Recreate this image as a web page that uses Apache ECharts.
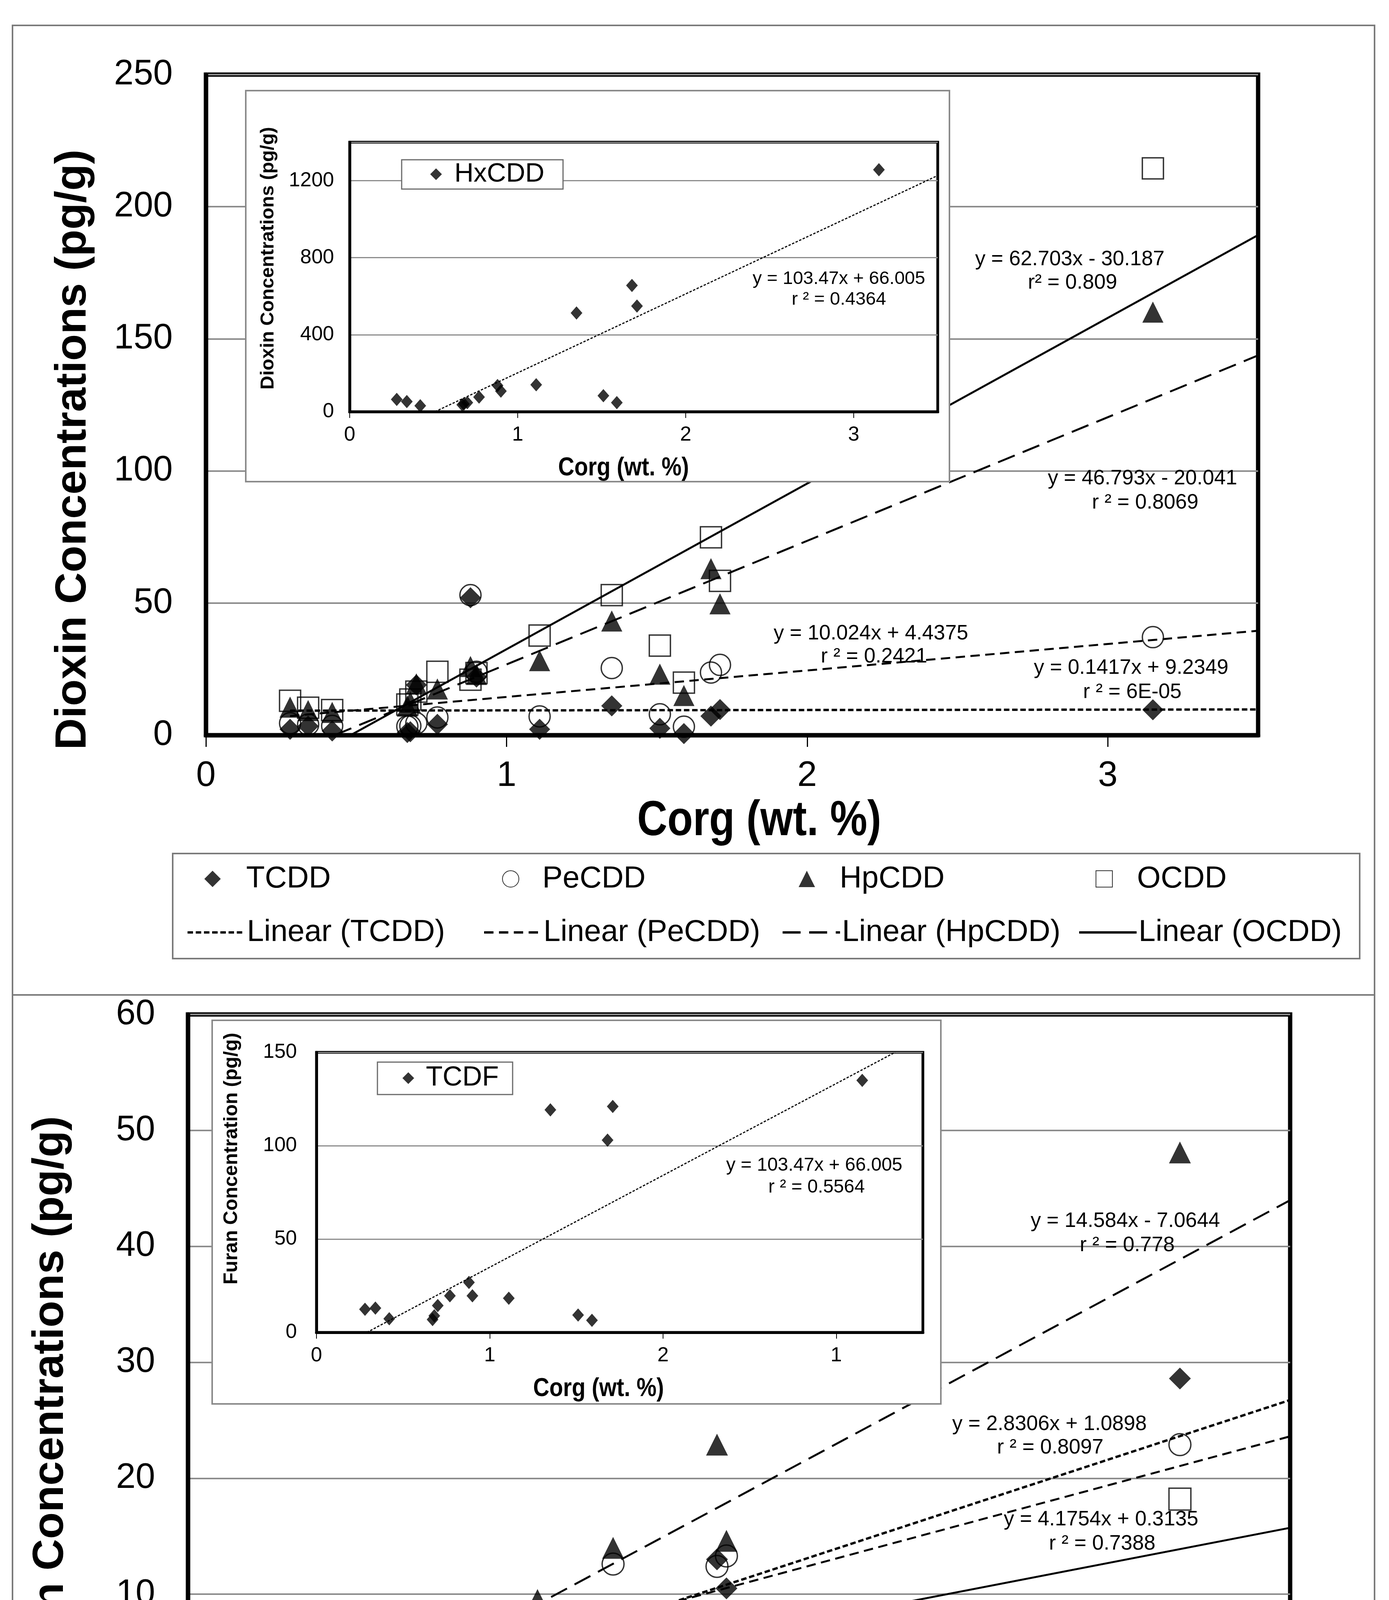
<!DOCTYPE html>
<html><head><meta charset="utf-8">
<script src="https://cdn.jsdelivr.net/npm/echarts/dist/echarts.min.js"></script>
<style>html,body{margin:0;padding:0;background:#fff}#c{width:3555px;height:5090px}</style>
</head><body><div id="c"></div>
<script>
// ---------------- DATA ----------------
const corg = [0.28, 0.34, 0.42, 0.67, 0.68, 0.70, 0.77, 0.88, 0.90, 1.11, 1.35, 1.51, 1.59, 1.68, 1.71, 3.15];
// Dioxins (pg/g)
const TCDD  = [2.2, 3.4, 1.6, 1.0, 1.3, 19.0, 4.1, 52.0, 22.0, 2.2, 11.1, 2.6, 0.6, 7.2, 9.7, 9.6];
const PeCDD = [4.5, 4.0, 3.5, 3.3, 3.5, 4.5, 6.7, 53.0, 24.0, 7.1, 25.4, 7.9, 3.2, 23.7, 26.6, 37.1];
const HpCDD = [10.6, 9.3, 8.6, 11.0, 12.5, 19.4, 17.5, 26.0, 23.0, 28.2, 43.2, 23.1, 15.0, 63.0, 49.7, 160.1];
const OCDD  = [13.0, 10.4, 9.5, 11.6, 13.5, 16.5, 24.0, 21.0, 23.5, 37.7, 53.0, 33.9, 19.9, 74.9, 58.4, 214.5];
const HxCDD = [64, 53, 31, 36, 40, 47, 76, 136, 107, 140, 513, 83, 47, 656, 549, 1257];
// Furans (pg/g)
const HxCDF = [2.1, 0.1, 1.7, 1.2, 1.9, 1.5, 2.8, 3.2, 2.9, 4.8, 7.0, 3.8, 2.8, 13.0, 10.5, 28.6];
const PeCDF = [2.2, 2.4, 1.8, 1.8, 2.0, 2.8, 3.8, 6.5, 5.7, 3.6, 12.6, 4.0, 1.9, 12.4, 13.3, 22.9];
const HpCDF = [5.2, 2.4, 1.8, 2.2, 2.6, 2.4, 4.6, 3.4, 4.6, 9.5, 14.0, 5.6, 3.7, 22.9, 14.6, 48.1];
const OCDF  = [2.2, 0.8, 0.5, 0.8, 0.3, 0.6, 1.6, 0.7, 1.8, 3.5, 5.3, 1.9, 1.3, 6.7, 4.0, 18.2];
const TCDF  = [12.4, 13.0, 7.3, 6.9, 8.9, 14.4, 19.6, 26.8, 19.6, 18.3, 119.2, 9.3, 6.5, 103, 121, 135];

// trend lines (slope, intercept) as drawn in the picture
const topTrendNames = ['Linear (TCDD)', 'Linear (PeCDD)', 'Linear (HpCDD)', 'Linear (OCDD)'];
const topTrendSlopes = [0.1417, 10.024, 46.793, 62.703];
const topTrendIntercepts = [9.2349, 4.4375, -20.041, -30.187];
const hxcddTrend = [410, -208];
const botTrendNames = ['Linear (HxCDF)', 'Linear (PeCDF)', 'Linear (HpCDF)', 'Linear (OCDF)'];
const botTrendSlopes = [8.9, 7.31, 14.584, 5.2565];
const botTrendIntercepts = [-4.4, -1.97, -7.0644, -2.6691];
const tcdfTrend = [49.2, -14.3];
const trendXRange = [0.28, 3.5];

// tick labels
const mainXTickValues = [0, 1, 2, 3];
const mainXTicks = ['0', '1', '2', '3'];
const tcdfXTicks = ['0', '1', '2', '1'];
const topYTicks = [0, 50, 100, 150, 200, 250];
const hxcddYTicks = [0, 400, 800, 1200];
const botYTicks = [0, 10, 20, 30, 40, 50, 60];
const tcdfYTicks = [0, 50, 100, 150];

// equation labels
const topEqTexts = ['y = 62.703x - 30.187', 'r² = 0.809', 'y = 46.793x - 20.041', 'r ² = 0.8069',
  'y = 10.024x + 4.4375', 'r ² = 0.2421', 'y = 0.1417x + 9.2349', 'r ² = 6E-05'];
const hxcddEqTexts = ['y = 103.47x + 66.005', 'r ² = 0.4364'];
const botEqTexts = ['y = 14.584x - 7.0644', 'r ² = 0.778', 'y = 2.8306x + 1.0898', 'r ² = 0.8097',
  'y = 4.1754x + 0.3135', 'r ² = 0.7388', 'y = 5.2565x - 2.6691', 'r ² = 0.7511'];
const tcdfEqTexts = ['y = 103.47x + 66.005', 'r ² = 0.5564'];

// ---------------- STYLE / LAYOUT ----------------
const SANS = "'Liberation Sans',Arial,sans-serif";
const GRIDC = '#8c8c8c';

function pts(ys) { return corg.map((x, i) => [x, ys[i]]); }
function trendData(m, b, yMin, yMax) {
  let x0 = trendXRange[0], x1 = trendXRange[1];
  if (m * x0 + b < yMin) x0 = (yMin - b) / m;
  if (m * x1 + b > yMax) x1 = (yMax - b) / m;
  return [[x0, m * x0 + b], [x1, m * x1 + b]];
}
function fmtFrom(list) { return v => { const i = Math.round(v); return (Math.abs(v - i) < 1e-9 && i < list.length) ? list[i] : ''; }; }
function fmtIn(list) { return v => list.indexOf(v) >= 0 ? String(v) : ''; }

const grids = [
  {left: 527, top: 191, width: 2693, height: 1691, show: true, borderColor: '#000', borderWidth: 11, z: 0},
  {left: 895, top: 364, width: 1505, height: 690, show: true, borderColor: '#000', borderWidth: 7, z: 11},
  {left: 481, top: 2597, width: 2821, height: 1781, show: true, borderColor: '#000', borderWidth: 11, z: 0},
  {left: 810, top: 2694, width: 1552, height: 717, show: true, borderColor: '#000', borderWidth: 7, z: 11}
];

function xAx(gi, inset, labels) {
  return {type: 'value', gridIndex: gi, min: 0, max: 3.5, interval: 1, z: inset ? 11 : 0,
    axisLine: {show: true, onZero: false, lineStyle: {color: '#000', width: inset ? 7 : 11}},
    axisTick: {show: true, customValues: mainXTickValues, length: inset ? 16 : 30, lineStyle: {color: '#000', width: inset ? 2 : 3}},
    axisLabel: {customValues: mainXTickValues, formatter: fmtFrom(labels), color: '#000', fontFamily: SANS,
      fontSize: inset ? 52 : 90, margin: inset ? 34 : 60},
    splitLine: {show: false}};
}
function yAx(gi, inset, max, interval, labels, margin) {
  return {type: 'value', gridIndex: gi, min: 0, max: max, interval: interval, z: inset ? 11 : 0,
    axisLine: {show: true, onZero: false, lineStyle: {color: '#000', width: inset ? 7 : 11}},
    axisTick: {show: false},
    axisLabel: {customValues: labels, formatter: fmtIn(labels), color: '#000', fontFamily: SANS, fontSize: inset ? 52 : 90, margin: margin},
    splitLine: {show: true, lineStyle: {color: GRIDC, width: inset ? 3 : 4}}};
}

function scatter(name, gi, ys, sym, filled, size, z) {
  return {type: 'scatter', name: name, xAxisIndex: gi, yAxisIndex: gi, data: pts(ys), symbol: sym, symbolSize: size,
    z: z || 3, silent: true,
    itemStyle: filled ? {color: '#000', borderColor: '#000', borderWidth: 0}
                      : {color: 'rgba(0,0,0,0)', borderColor: '#000', borderWidth: 3.5}};
}
const dashStyles = [{type: [14, 7], width: 6}, {type: [24, 14], width: 5}, {type: [46, 22], width: 5}, {type: 'solid', width: 5}];
function trendLine(name, gi, m, b, yMax, style, z) {
  return {type: 'line', name: name, xAxisIndex: gi, yAxisIndex: gi, data: trendData(m, b, 0, yMax), symbol: 'none',
    showSymbol: false, clip: true, silent: true, z: z || 2, animation: false,
    itemStyle: {color: '#000', opacity: 0},
    lineStyle: {color: '#000', width: style.width, type: style.type, cap: 'butt'}};
}

const series = [];
// top main
series.push(scatter('TCDD', 0, TCDD, 'diamond', true, 54));
series.push(scatter('PeCDD', 0, PeCDD, 'circle', false, 54));
series.push(scatter('HpCDD', 0, HpCDD, 'triangle', true, 54));
series.push(scatter('OCDD', 0, OCDD, 'rect', false, 54));
topTrendNames.forEach((n, i) => series.push(trendLine(n, 0, topTrendSlopes[i], topTrendIntercepts[i], 250, dashStyles[i])));
// top inset
series.push(scatter('HxCDD', 1, HxCDD, 'diamond', true, [30, 34], 13));
series.push(trendLine('Linear (HxCDD)', 1, hxcddTrend[0], hxcddTrend[1], 1400, {type: [6, 4], width: 3}, 12));
// bottom main
series.push(scatter('HxCDF', 2, HxCDF, 'diamond', true, 56));
series.push(scatter('PeCDF', 2, PeCDF, 'circle', false, 56));
series.push(scatter('HpCDF', 2, HpCDF, 'triangle', true, 56));
series.push(scatter('OCDF', 2, OCDF, 'rect', false, 56));
botTrendNames.forEach((n, i) => series.push(trendLine(n, 2, botTrendSlopes[i], botTrendIntercepts[i], 60, dashStyles[i])));
// bottom inset
series.push(scatter('TCDF', 3, TCDF, 'diamond', true, [30, 34], 13));
series.push(trendLine('Linear (TCDF)', 3, tcdfTrend[0], tcdfTrend[1], 150, {type: [6, 4], width: 3}, 12));

// legends
const legends = [];
const LEGFS = 78;
function legMarker(name, cx, cy, size, fs, textStart, z) {
  legends.push({data: [name], left: cx - size / 2, top: cy - fs / 2, itemWidth: size, itemHeight: size, padding: 0,
    selectedMode: false, z: z || 4,
    textStyle: {fontFamily: SANS, fontSize: fs, lineHeight: fs, color: '#000', padding: [0, 0, 0, textStart - (cx + size / 2 + 5)]}});
}
function legLine(name, x0, cy, w, fs) {
  legends.push({data: [name], left: x0, top: cy - fs / 2, itemWidth: w, itemHeight: 4, padding: 0, selectedMode: false,
    itemStyle: {opacity: 0}, lineStyle: {width: 6, color: '#000'},
    textStyle: {fontFamily: SANS, fontSize: fs, lineHeight: fs, color: '#000'}});
}
const topMk = [[544, 630], [1306, 1387], [2065, 2149], [2825, 2909]];
['TCDD', 'PeCDD', 'HpCDD', 'OCDD'].forEach((n, i) => legMarker(n, topMk[i][0], 2250, 42, LEGFS, topMk[i][1]));
const topLn = [477, 1236, 2000, 2759];
topTrendNames.forEach((n, i) => legLine(n, topLn[i], 2387, 147, LEGFS));
const botMk = [[483, 567], [1245, 1326], [2004, 2086], [2763, 2847]];
['HxCDF', 'PeCDF', 'HpCDF', 'OCDF'].forEach((n, i) => legMarker(n, botMk[i][0], 4751, 42, LEGFS, botMk[i][1]));
const botLn = [416, 1175, 1935, 2696];
botTrendNames.forEach((n, i) => legLine(n, botLn[i], 4890, 147, LEGFS));
legMarker('HxCDD', 1116, 446, 30, 68, 1163, 16);
legMarker('TCDF', 1045, 2760, 30, 70, 1090, 16);

// graphics
const graphic = [];
function rect(x0, y0, x1, y1, stroke, lw, z, fill) {
  graphic.push({type: 'rect', z: z, silent: true, shape: {x: x0, y: y0, width: x1 - x0, height: y1 - y0},
    style: {fill: fill || 'none', stroke: stroke, lineWidth: lw}});
}
function text(t, x, y, fs, weight, rot, sx, z) {
  graphic.push({type: 'text', x: x, y: y, rotation: rot || 0, scaleX: sx || 1, z: z || 20, silent: true,
    style: {text: t, fill: '#000', fontSize: fs, fontFamily: SANS, fontWeight: weight || 'normal', textAlign: 'center', textVerticalAlign: 'middle'}});
}
rect(32, 65, 3518, 2547, '#7a7a7a', 4, 0);
rect(32, 2547, 3518, 5036, '#7a7a7a', 4, 0);
rect(442, 2185, 3480, 2454, '#7a7a7a', 4, 0);
rect(374, 4686, 3412, 4955, '#7a7a7a', 4, 0);
rect(629, 232, 2430, 1233, '#8a8a8a', 4, 10, '#fff');
rect(543, 2612, 2408, 3594, '#8a8a8a', 4, 10, '#fff');
rect(1028, 409, 1441, 484, '#6a6a6a', 3, 14, '#fff');
rect(966, 2719, 1312, 2802, '#6a6a6a', 3, 14, '#fff');

text('Dioxin Concentrations (pg/g)', 188, 1151, 112, 'bold', Math.PI / 2);
text('Corg (wt. %)', 1943, 2103, 126, 'bold', 0, 0.85);
text('Furan Concentrations (pg/g)', 130, 3610, 112, 'bold', Math.PI / 2);
text('Corg (wt. %)', 1880, 4605, 126, 'bold', 0, 0.85);
text('Dioxin Concentrations (pg/g)', 686, 661, 49, 'bold', Math.PI / 2);
text('Corg (wt. %)', 1596, 1199, 66, 'bold', 0, 0.87);
text('Furan Concentration (pg/g)', 593, 2966, 50, 'bold', Math.PI / 2);
text('Corg (wt. %)', 1532, 3556, 66, 'bold', 0, 0.87);

const topEqPos = [[2738, 664], [2745, 724], [2924, 1225], [2931, 1287], [2229, 1622], [2237, 1681], [2895, 1710], [2898, 1772]];
topEqTexts.forEach((t, i) => text(t, topEqPos[i][0], topEqPos[i][1], 53));
const hxEqPos = [[2147, 714], [2147, 767]];
hxcddEqTexts.forEach((t, i) => text(t, hxEqPos[i][0], hxEqPos[i][1], 47));
const botEqPos = [[2880, 3126], [2885, 3188], [2686, 3646], [2688, 3706], [2818, 3890], [2821, 3952], [2431, 4160], [2434, 4221]];
botEqTexts.forEach((t, i) => text(t, botEqPos[i][0], botEqPos[i][1], 53));
const tcEqPos = [[2084, 2984], [2090, 3040]];
tcdfEqTexts.forEach((t, i) => text(t, tcEqPos[i][0], tcEqPos[i][1], 48));

const option = {
  backgroundColor: '#fff',
  animation: false,
  grid: grids,
  xAxis: [xAx(0, false, mainXTicks), xAx(1, true, mainXTicks), xAx(2, false, mainXTicks), xAx(3, true, tcdfXTicks)],
  yAxis: [yAx(0, false, 250, 50, topYTicks, 85), yAx(1, true, 1400, 400, hxcddYTicks, 40),
          yAx(2, false, 60, 10, botYTicks, 84), yAx(3, true, 150, 50, tcdfYTicks, 50)],
  legend: legends,
  series: series,
  graphic: graphic
};
const chart = echarts.init(document.getElementById('c'), null, {renderer: 'canvas', width: 3555, height: 5090});
chart.setOption(option);
</script></body></html>
